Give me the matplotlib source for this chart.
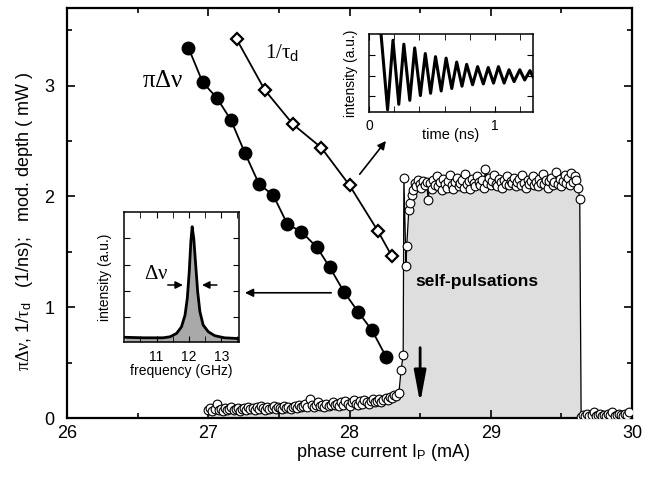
import numpy as np
import matplotlib
matplotlib.use('Agg')
import matplotlib.pyplot as plt

plt.rcParams['font.family'] = ['Liberation Sans', 'DejaVu Sans']
plt.rcParams['mathtext.fontset'] = 'custom'
plt.rcParams['mathtext.rm'] = 'Liberation Serif'
plt.rcParams['mathtext.it'] = 'Liberation Serif:italic'
plt.rcParams['mathtext.sf'] = 'Liberation Sans'

## linewidth data (filled circles) and 1/tau_d (diamonds)
I_dnu = [26.86, 26.96, 27.06, 27.16, 27.26, 27.36, 27.46, 27.56, 27.66, 27.77,
         27.86, 27.96, 28.06, 28.16, 28.26]
pi_dnu = [3.34, 3.03, 2.89, 2.69, 2.39, 2.11, 2.01, 1.75, 1.68, 1.54,
          1.36, 1.14, 0.96, 0.79, 0.55]

I_tau = [27.20, 27.40, 27.60, 27.80, 28.00, 28.20, 28.30]
inv_tau = [3.42, 2.96, 2.65, 2.44, 2.10, 1.69, 1.46]

## modulation depth (open circles)
low_y = [0.07, 0.09, 0.06, 0.08, 0.13, 0.07, 0.08, 0.06, 0.09, 0.07,
         0.08, 0.10, 0.07, 0.08, 0.09, 0.06, 0.08, 0.09, 0.07, 0.10,
         0.08, 0.09, 0.07, 0.10, 0.08, 0.11, 0.09, 0.07, 0.10, 0.08,
         0.09, 0.11, 0.08, 0.10, 0.09, 0.08, 0.11, 0.09, 0.10, 0.08,
         0.10, 0.11, 0.09, 0.12, 0.10, 0.11, 0.13, 0.10, 0.17, 0.12,
         0.10, 0.12, 0.14, 0.11, 0.12, 0.10, 0.13, 0.11, 0.12, 0.14,
         0.12, 0.13, 0.11, 0.14, 0.12, 0.15, 0.13, 0.11, 0.14, 0.16,
         0.13, 0.12, 0.15, 0.13, 0.16, 0.14, 0.13, 0.15, 0.17, 0.14,
         0.15, 0.17, 0.14, 0.16, 0.18, 0.16, 0.19, 0.18, 0.21, 0.20]
low_x = np.linspace(27.0, 28.33, len(low_y))

jump_x = [28.35, 28.365, 28.38, 28.385, 28.40, 28.405, 28.42, 28.43, 28.44]
jump_y = [0.23, 0.43, 0.57, 2.17, 1.37, 1.55, 1.88, 1.94, 2.01]

sp_y = [2.06, 2.12, 2.09, 2.15, 2.11, 2.08, 2.14, 2.10, 2.13, 1.97,
        2.12, 2.07, 2.15, 2.10, 2.18, 2.09, 2.13, 2.06, 2.16, 2.11,
        2.08, 2.14, 2.19, 2.10, 2.07, 2.13, 2.17, 2.09, 2.12, 2.15,
        2.08, 2.20, 2.11, 2.14, 2.07, 2.16, 2.12, 2.09, 2.18, 2.13,
        2.10, 2.15, 2.08, 2.25, 2.12, 2.17, 2.10, 2.14, 2.19, 2.11,
        2.09, 2.16, 2.13, 2.08, 2.15, 2.11, 2.18, 2.10, 2.14, 2.12,
        2.17, 2.09, 2.13, 2.16, 2.10, 2.19, 2.12, 2.08, 2.15, 2.11,
        2.14, 2.18, 2.10, 2.13, 2.09, 2.16, 2.12, 2.20, 2.11, 2.15,
        2.08, 2.14, 2.17, 2.10, 2.13, 2.22, 2.11, 2.16, 2.09, 2.14,
        2.19, 2.12, 2.17, 2.10, 2.21, 2.13, 2.18, 2.15, 2.08, 1.98]
sp_x = np.linspace(28.45, 29.63, len(sp_y))

off_y = [0.01, 0.03, 0.02, 0.04, 0.02, 0.03, 0.05, 0.02, 0.03, 0.04,
         0.02, 0.03, 0.02, 0.04, 0.03, 0.05, 0.02, 0.03, 0.04, 0.03,
         0.02, 0.04, 0.03, 0.05]
off_x = np.linspace(29.64, 29.98, len(off_y))

mod_x = np.concatenate([low_x, jump_x, sp_x, off_x])
mod_y = np.concatenate([low_y, jump_y, sp_y, off_y])

## inset: RF spectrum
freq = [10.02, 10.3, 10.6, 10.9, 11.2, 11.42, 11.62, 11.77, 11.88, 11.95,
        12.01, 12.06, 12.10, 12.15, 12.21, 12.27, 12.34, 12.44, 12.60, 12.80,
        13.10, 13.55]
spec = [-0.78, -0.79, -0.80, -0.80, -0.80, -0.76, -0.63, -0.38, 0.07, 0.71,
        1.73, 2.88, 3.45, 3.00, 1.98, 0.97, 0.20, -0.31, -0.57, -0.72,
        -0.80, -0.83]

## inset: relaxation oscillation (extrema of the trace)
t_ns = [0.095, 0.147, 0.19, 0.236, 0.276, 0.323, 0.362, 0.407, 0.446, 0.488,
        0.527, 0.572, 0.611, 0.656, 0.695, 0.737, 0.774, 0.821, 0.861, 0.906,
        0.945, 0.987, 1.026, 1.071, 1.11, 1.15, 1.195, 1.234, 1.276, 1.30]
trace = [3.0, -0.64, 2.70, -0.38, 2.51, -0.19, 2.33, 0.04, 2.06, 0.15,
         1.91, 0.26, 1.84, 0.38, 1.65, 0.49, 1.54, 0.56, 1.43, 0.60,
         1.39, 0.64, 1.43, 0.64, 1.28, 0.71, 1.28, 0.79, 1.24, 0.94]


fig = plt.figure(figsize=(6.52, 4.78), dpi=100)
ax = fig.add_axes([0.1028, 0.1255, 0.8665, 0.8578])

ax.fill_between(mod_x, 0, mod_y, color='#dedede', lw=0, zorder=1)
ax.plot(mod_x, mod_y, '-', color='k', lw=0.9, zorder=2)
ax.plot(mod_x, mod_y, 'o', ms=6.3, mfc='white', mec='k', mew=0.8, zorder=3)

ax.plot(I_dnu, pi_dnu, '-', color='k', lw=1.3, zorder=4)
ax.plot(I_dnu, pi_dnu, 'o', ms=9, mfc='k', mec='k', zorder=5)
ax.plot(I_tau, inv_tau, '-', color='k', lw=1.3, zorder=4)
ax.plot(I_tau, inv_tau, 'D', ms=6.6, mfc='white', mec='k', mew=1.6, zorder=5)

ax.set_xlim(26, 30)
ax.set_ylim(0, 3.7)
ax.set_xticks([26, 27, 28, 29, 30])
ax.set_xticks([26.5, 27.5, 28.5, 29.5], minor=True)
ax.set_yticks([0, 1, 2, 3])
ax.set_yticks([0.5, 1.5, 2.5, 3.5], minor=True)
ax.tick_params(which='both', direction='in', top=True, right=True, width=1.2, labelsize=13)
ax.tick_params(which='major', length=6)
ax.tick_params(which='minor', length=3.5)
ax.tick_params(axis='x', pad=5)
ax.tick_params(axis='y', pad=9)
for s in ax.spines.values():
    s.set_linewidth(1.6)

ax.set_xlabel(r'phase current I$_\mathsf{P}$ (mA)', fontsize=13)
ax.xaxis.set_label_coords(0.559, -0.058)
ax.set_ylabel(r'$\mathrm{\pi\Delta\nu}$, 1/$\mathrm{\tau}_\mathsf{d}$   (1/ns);   mod. depth ( mW )',
              fontsize=13)
ax.yaxis.set_label_coords(-0.057, 0.48)

ax.text(26.68, 3.05, r'$\mathrm{\pi\Delta\nu}$', fontsize=18, ha='center', va='center')
ax.text(27.52, 3.3, r'$\mathrm{1/\tau}_\mathsf{d}$', fontsize=15, ha='center', va='center')
ax.text(28.9, 1.23, 'self-pulsations', fontsize=12.5, fontweight='bold', ha='center', va='center')

ax.annotate('', xy=(27.24, 1.13), xytext=(27.89, 1.13),
            arrowprops=dict(arrowstyle='-|>', color='k', lw=1.2, mutation_scale=12))
ax.annotate('', xy=(28.27, 2.52), xytext=(28.06, 2.18),
            arrowprops=dict(arrowstyle='-|>', color='k', lw=1.2, mutation_scale=12))
ax.annotate('', xy=(28.5, 0.11), xytext=(28.5, 0.66),
            arrowprops=dict(arrowstyle='-|>,head_length=1.6,head_width=0.3', color='k', lw=2,
                            mutation_scale=12))

## inset spectrum
ax1 = fig.add_axes([0.1906, 0.2851, 0.176, 0.2707])
ax1.fill_between(freq, -0.95, spec, color='#a9a9a9', lw=0)
ax1.plot(freq, spec, '-', color='k', lw=2)
ax1.set_xlim(10.0, 13.55)
ax1.set_ylim(-0.95, 4.0)
ax1.set_xticks([11, 12, 13])
ax1.set_xticks([10.5, 11.5, 12.5, 13.5], minor=True)
ax1.set_yticks([0, 1, 2, 3])
ax1.set_yticklabels([])
ax1.tick_params(which='both', direction='in', top=True, right=True, labelsize=10, pad=6)
ax1.tick_params(which='major', length=4)
ax1.tick_params(which='minor', length=4)
for s in ax1.spines.values():
    s.set_linewidth(1.1)
ax1.set_xlabel('frequency (GHz)', fontsize=10, labelpad=0)
ax1.set_ylabel('intensity (a.u.)', fontsize=10, labelpad=3)
ax1.annotate('', xy=(11.9, 1.22), xytext=(11.26, 1.22),
             arrowprops=dict(arrowstyle='-|>', color='k', lw=1.1, mutation_scale=11))
ax1.annotate('', xy=(12.32, 1.22), xytext=(12.95, 1.22),
             arrowprops=dict(arrowstyle='-|>', color='k', lw=1.1, mutation_scale=11))
ax1.text(10.98, 1.65, r'$\mathrm{\Delta\nu}$', fontsize=15, ha='center', va='center')

## inset time trace
ax2 = fig.add_axes([0.566, 0.7657, 0.2515, 0.1632])
ax2.plot(t_ns, trace, '-', color='k', lw=2.2, solid_joinstyle='round')
ax2.set_xlim(0, 1.3)
ax2.set_ylim(-0.75, 3.0)
ax2.set_xticks([0, 1])
ax2.set_xticks([0.2, 0.4, 0.6, 0.8, 1.2], minor=True)
ax2.set_yticks([0, 1, 2])
ax2.set_yticklabels([])
ax2.tick_params(which='both', direction='in', top=True, right=True, labelsize=10, pad=5, length=4)
for s in ax2.spines.values():
    s.set_linewidth(1.1)
ax2.set_ylabel('intensity (a.u.)', fontsize=10, labelpad=3)
ax2.text(0.5, -0.2, 'time (ns)', transform=ax2.transAxes, fontsize=10.5, ha='center', va='top')

plt.savefig('out.png', dpi=100)
